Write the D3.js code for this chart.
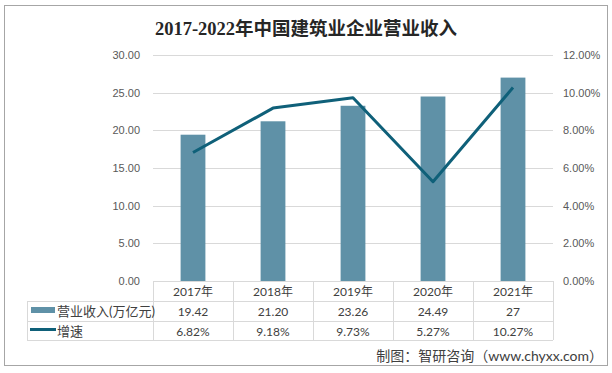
<!DOCTYPE html>
<html>
<head>
<meta charset="utf-8">
<script src="https://cdn.jsdelivr.net/npm/d3@7"></script>
<style>
  body { margin: 0; background: #fff; }
  svg { display: block; font-family: Lato, "Noto Sans CJK SC", sans-serif; }
</style>
</head>
<body>
<div id="chart"></div>
<script>
var years = ["2017年", "2018年", "2019年", "2020年", "2021年"];
var revenue = [19.42, 21.20, 23.26, 24.49, 27];
var revenueLabels = ["19.42", "21.20", "23.26", "24.49", "27"];
var growth = [6.82, 9.18, 9.73, 5.27, 10.27];
var leftTicks = [0, 5, 10, 15, 20, 25, 30];
var rightTicks = [0, 2, 4, 6, 8, 10, 12];

var W = 612, H = 373;
var plot = {left: 153, right: 553, top: 55, bottom: 281};
var barColor = "#5f91a7", lineColor = "#0f6079", gridColor = "#d9d9d9";

var svg = d3.select("#chart").append("svg")
    .attr("width", W)
    .attr("height", H);

// outer frame
svg.append("rect")
    .attr("x", 4.5).attr("y", 5.5)
    .attr("width", 603).attr("height", 360)
    .attr("fill", "#fff")
    .attr("stroke", "#a6a6a6");

svg.append("text")
    .attr("x", 306).attr("y", 35)
    .attr("text-anchor", "middle")
    .style("font-family", "'Liberation Serif', 'Noto Sans CJK SC', serif")
    .style("font-weight", "bold")
    .style("font-size", "18.5px")
    .attr("fill", "#262626")
    .text("2017-2022年中国建筑业企业营业收入");

var x = d3.scaleBand()
    .domain(years)
    .range([plot.left, plot.right]);

var y = d3.scaleLinear()
    .domain([0, 30])
    .range([plot.bottom, plot.top]);

var y2 = d3.scaleLinear()
    .domain([0, 12])
    .range([plot.bottom, plot.top]);

// gridlines
svg.append("g")
  .selectAll("line")
  .data(leftTicks.slice(1))
  .enter()
  .append("line")
    .attr("x1", plot.left).attr("x2", plot.right)
    .attr("y1", function (d) { return Math.round(y(d)) + 0.5; })
    .attr("y2", function (d) { return Math.round(y(d)) + 0.5; })
    .attr("stroke", gridColor);

// left axis
var leftAxis = svg.append("g")
    .attr("transform", "translate(" + (plot.left - 13) + ",0)")
    .call(d3.axisLeft(y).tickValues(leftTicks).tickSize(0).tickPadding(0)
      .tickFormat(function (d) { return d3.format(".2f")(d); }));
leftAxis.select(".domain").remove();
leftAxis.selectAll("text")
    .attr("fill", "#595959")
    .style("font-size", "11px");

// right axis
var rightAxis = svg.append("g")
    .attr("transform", "translate(" + (plot.right + 10) + ",0)")
    .call(d3.axisRight(y2).tickValues(rightTicks).tickSize(0).tickPadding(0)
      .tickFormat(function (d) { return d3.format(".2f")(d) + "%"; }));
rightAxis.select(".domain").remove();
rightAxis.selectAll("text")
    .attr("fill", "#595959")
    .style("font-size", "11px");

// bars
var barW = x.bandwidth() * 0.31;
svg.append("g")
  .selectAll("rect")
  .data(revenue)
  .enter()
  .append("rect")
    .attr("x", function (d, i) { return x(years[i]) + (x.bandwidth() - barW) / 2; })
    .attr("y", function (d) { return y(d); })
    .attr("width", barW)
    .attr("height", function (d) { return plot.bottom - y(d); })
    .attr("fill", barColor);

// growth line
var line = d3.line()
    .x(function (d, i) { return x(years[i]) + x.bandwidth() / 2; })
    .y(function (d) { return y2(d); });

svg.append("path")
    .datum(growth)
    .attr("d", line)
    .attr("fill", "none")
    .attr("stroke", lineColor)
    .attr("stroke-width", 3)
    .attr("stroke-linejoin", "round");

// data table
var rowH = 20;
var rows = [plot.bottom, plot.bottom + rowH, plot.bottom + 2 * rowH, plot.bottom + 3 * rowH - 1];
var tableLeft = 27;
var tbl = svg.append("g").attr("stroke", gridColor).attr("shape-rendering", "crispEdges");

tbl.append("line")
    .attr("x1", plot.left).attr("x2", plot.right)
    .attr("y1", rows[0] + 0.5).attr("y2", rows[0] + 0.5);
[1, 2, 3].forEach(function (r) {
  tbl.append("line")
      .attr("x1", tableLeft).attr("x2", plot.right)
      .attr("y1", rows[r] + 0.5).attr("y2", rows[r] + 0.5);
});
tbl.append("line")
    .attr("x1", tableLeft + 0.5).attr("x2", tableLeft + 0.5)
    .attr("y1", rows[1]).attr("y2", rows[3]);
tbl.selectAll(".vcol")
  .data(years.concat(["end"]))
  .enter()
  .append("line")
    .attr("x1", function (d, i) { return plot.left + i * x.bandwidth() + 0.5; })
    .attr("x2", function (d, i) { return plot.left + i * x.bandwidth() + 0.5; })
    .attr("y1", rows[0]).attr("y2", rows[3]);

function rowText(data, r) {
  svg.append("g")
    .selectAll("text")
    .data(data)
    .enter()
    .append("text")
      .attr("x", function (d, i) { return x(years[i]) + x.bandwidth() / 2; })
      .attr("y", rows[r] + 14.5)
      .attr("text-anchor", "middle")
      .attr("fill", "#404040")
      .style("font-size", "12px")
      .text(function (d) { return d; });
}
rowText(years, 0);
rowText(revenueLabels, 1);
rowText(growth.map(function (d) { return d3.format(".2f")(d) + "%"; }), 2);

// legend keys
svg.append("rect")
    .attr("x", 31).attr("y", rows[1] + 6)
    .attr("width", 24).attr("height", 6)
    .attr("fill", barColor);
svg.append("line")
    .attr("x1", 30).attr("x2", 56)
    .attr("y1", rows[2] + 8.5).attr("y2", rows[2] + 8.5)
    .attr("stroke", lineColor)
    .attr("stroke-width", 3);
svg.append("text")
    .attr("x", 57).attr("y", rows[1] + 15)
    .attr("fill", "#404040")
    .style("font-size", "13px")
    .text("营业收入(万亿元)");
svg.append("text")
    .attr("x", 57).attr("y", rows[2] + 15)
    .attr("fill", "#404040")
    .style("font-size", "13px")
    .text("增速");

// source
svg.append("text")
    .attr("x", 603).attr("y", 361)
    .attr("text-anchor", "end")
    .attr("fill", "#404040")
    .style("font-size", "14px")
    .text("制图：智研咨询（www.chyxx.com）");
</script>
</body>
</html>
